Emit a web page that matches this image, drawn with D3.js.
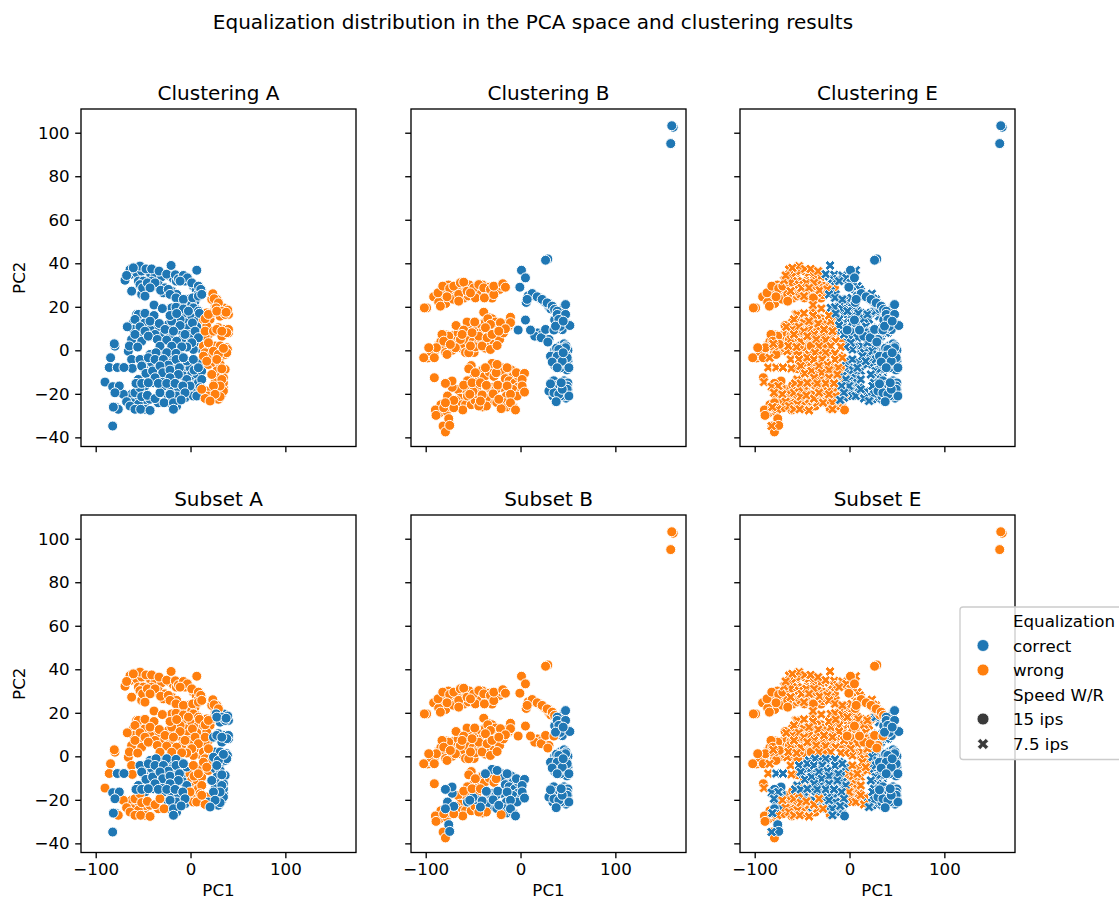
<!DOCTYPE html>
<html><head><meta charset="utf-8">
<script src="https://cdn.jsdelivr.net/npm/d3@7/dist/d3.min.js"></script>
<style>html,body{margin:0;padding:0;background:#fff;overflow:hidden}svg{display:block}text{font-family:"DejaVu Sans",sans-serif;fill:#000}</style>
</head><body><svg id="c" width="1119" height="900"></svg>
<script>
// Labels: 0 = correct, 1 = wrong. Rows: [PC1, PC2, own clustering, subset, clustering E]
const equalization = ["correct", "wrong"];
const speeds = ["15 ips", "7.5 ips"];
const xTicks = [-100, 0, 100];
const yTicks = [-40, -20, 0, 20, 40, 60, 80, 100];
const figureTitle = "Equalization distribution in the PCA space and clustering results";

// 7.5 ips recordings
const points75 = [
[-63.8,34.8,0,1,1],[-56.8,35.6,0,1,1],[-51.5,36.4,0,1,1],[-42.7,35.6,0,1,1],[-37.4,34.4,0,1,1],[-30.4,33.8,0,1,1],[-21.6,34,0,1,0],[-18,32.8,0,1,0],[-15,31.8,0,1,0],[-5.8,31.8,0,1,0],[3,29.5,0,1,0],[5.9,28,0,1,0],[11.8,27.2,0,1,0],[8.3,26.1,0,1,0],
[-55,31.8,0,1,1],[-49.8,31.8,0,1,1],[-41,31.8,0,1,1],[-34,30.2,0,1,1],[-39.2,29.5,0,1,1],[-48,27.2,0,1,1],[-51.5,25.7,0,1,1],[-26.9,28.7,0,1,1],[-28.6,26.4,0,1,1],[-19.8,27.2,0,1,0],[-14.6,25.7,0,1,0],[-4,23.4,0,1,0],[-11,22.6,0,1,0],[-2.2,21.8,0,1,0],[4.8,22.6,0,1,0],[-9.3,21,0,1,0],[1.3,21,0,1,0],
[6.6,18.8,0,1,0],[-19.8,19.5,0,1,0],[-12.8,18,0,1,0],[-5.8,16,0,1,0],[1.3,15.7,0,1,0],[8.3,14.2,0,1,0],[-5.8,12.7,0,1,0],[-15.3,13.4,0,1,1],[-11,14.2,0,1,0],[-56.8,16.5,0,1,1],[-51.5,14.9,0,1,1],[-60.3,12.7,0,1,1],[-48,12.7,0,1,1],[-39.2,12.7,0,1,1],[-34,10.4,0,1,1],[-42.7,9.6,0,1,1],[-53.3,8,0,1,1],[-60.3,9.6,0,1,1],[-23.4,11.9,0,1,1],[-18,11.4,0,1,1],[-14.6,9.6,0,1,1],[-9.3,8.8,0,1,0],[-2.2,10.4,0,1,0],[6.6,10.8,0,1,0],[11.8,7.3,0,1,0],[-.5,7.3,0,1,0],[1.3,5.8,0,1,0],[-5.8,4.2,0,1,0],
[-32.2,5.8,0,1,1],[-21.6,6.5,0,1,1],[-28.6,7.3,0,1,1],[-42.7,6.5,0,1,1],[-51.5,4.2,0,1,1],[-62.1,5,0,1,1],[-9.3,5,0,1,1],[6.6,2,0,1,0],[11.8,.4,0,1,0],[3,.4,0,1,0],[-79.7,1.9,0,1,1],[-65.6,-.4,0,1,1],
[-42.7,-1.9,0,0,1],[-32.2,-1.9,0,0,1],[-19.8,-1.9,0,0,1],[-11,-2.6,0,0,1],[-47.9,-4.2,0,0,1],[-41,-5.7,0,0,1],[-34,-5.7,0,0,1],[-19.8,-5.7,0,0,1],[-26.9,-8,0,0,1],[-18,-8.8,0,0,1],[-7.5,-8,0,0,1],[-49.8,-8,0,0,1],[-42.7,-10.3,0,0,1],[-34,-11,0,0,1],[-26.9,-11.8,0,0,1],[-18,-11.8,0,0,1],[-7.5,-11.8,0,0,0],
[-.5,-8,0,1,0],[1.3,-11,0,1,0],[6.6,-12.6,0,1,0],[-.5,-14.1,0,1,0],[4.8,-15.7,0,1,0],[8.3,-14.9,0,1,0],[11.8,-9.5,0,1,0],[10.1,-5.7,0,1,0],
[-55,-13.4,0,0,1],[-48,-16.4,0,0,1],[-39.2,-14.9,0,0,1],[-28.6,-16.4,0,0,1],[-19.8,-17.2,0,0,1],[-12.8,-17.2,0,0,1],[-77.9,-18,0,0,1],[-74.4,-18.7,0,0,1],[-30.4,-13.4,0,0,1],
[-62.1,-20.2,0,1,1],[-55,-22.5,0,1,1],[-48,-24.1,0,1,1],[-42.7,-22.5,0,1,1],[-34,-24.1,0,1,1],[-62.1,-24.1,0,1,1],[-55,-24.8,0,1,1],[-48,-27.1,0,1,1],[-4,-18,0,1,0],[1.3,-18.7,0,1,0],[-7.5,-21,0,1,0],[11.8,-21,0,1,0],
[-23.4,-21,0,0,1],[-14.6,-21,0,0,1],[-21.6,-24,0,0,1],[-14.6,-25.6,0,0,1],[-5.8,-21.8,0,0,0],[-77.9,-26.4,0,0,1],
[17.1,17.2,1,1,0],[20.6,14.2,1,1,0],[13.6,14.2,1,1,0],[25.9,20.3,1,1,0],[27.7,23.4,1,1,0],[22.4,23.4,1,1,0],[17.1,11.1,1,1,0],[18.9,7.3,1,1,0],[15.4,6.5,1,1,0],[13.6,2,1,1,0],[18.9,.4,1,1,0],[15.4,-1.1,1,1,0],[20.6,-2.7,1,1,0],[18.9,-6.5,1,1,0],[17.1,-18.7,1,1,0],[13.6,-21,1,1,0],
[34.7,19.5,1,0,0],[31.2,15.7,1,0,0],[40,16.5,1,0,0],[29.4,10.4,1,0,0],[36.5,9.6,1,0,0],[33,6.5,1,0,0],[40,8,1,0,0],[25.9,2,1,0,0],[31.2,2,1,0,0],[38.2,1.2,1,0,0],[27.7,-2.7,1,0,0],[33,-2.7,1,0,0],[25.9,-5.7,1,0,0],[31.2,-6.5,1,0,0],[36.5,-8.8,1,0,0],[27.7,-9.5,1,0,0],[29.4,-12.6,1,0,0],[34.7,-12.6,1,0,0],[25.9,-14.9,1,0,0],[34.7,-17.2,1,0,0],[27.7,-19.5,1,0,0],[33,-20.2,1,0,0],[24.2,-22.5,1,0,0],[29.4,-22.5,1,0,0],[18.9,-21,1,0,0],
[-53.3,38.7,0,1,1],[-63.8,37.1,0,1,1],[-60.3,37.9,0,1,1],[-47,37.4,0,1,1],[-41,37.4,0,1,1],[-33.2,36.4,0,1,1],
[-25.1,35,0,1,0],[-16,34.7,0,1,0],[-20.5,39,0,1,0],[-69.1,32.2,0,1,1],[-67.4,34.4,0,1,1],[6.6,36.8,0,1,0],
[-12.8,32.8,0,1,0],[-7.5,34.4,0,1,0],[-3.3,33.3,0,1,0],[1.3,31,0,1,0],[8.3,29.5,0,1,0],[10.8,28,0,1,0],
[-11,31.8,0,1,0],[-53.3,30.2,0,1,1],[-50.5,28.7,0,1,1],[-45.5,31,0,1,1],[-37.4,31,0,1,1],[-42.7,28.7,0,1,1],
[-62.1,27.2,0,1,1],[-31.5,27.6,0,1,1],[-23.4,28,0,1,1],[-48,24.9,0,1,1],[-21.6,25.7,0,1,0],[-15.3,24.1,0,1,0],
[-7.5,23.4,0,1,0],[2.3,24.1,0,1,0],[8.3,24.9,0,1,0],[11.8,25.7,0,1,0],
[-38.5,20.8,0,1,1],[-29.7,19.2,0,1,1],[-15.3,19.8,0,1,0],[-7.5,19,0,1,0],[3,19.5,0,1,0],[8.3,18,0,1,0],[-2.2,18,0,1,0],
[-55,16.5,0,1,1],[-48,17,0,1,1],[-38.5,16,0,1,1],[-58.6,14.2,0,1,1],[-53.3,10.8,0,1,1],[-66.7,10.8,0,1,1],
[-42.7,13.4,0,1,1],[-32.9,12.3,0,1,1],[-19.8,13.4,0,1,1],[-11,11.4,0,1,0],[2,12.6,0,1,0],[9.4,17,0,1,0],
[-21.6,16,0,1,1],[-14.6,16.9,0,1,0],[-58.6,7.3,0,1,1],[-48,8.8,0,1,1],[-37.4,7.3,0,1,1],[-26.9,9.6,0,1,1],
[-18,8.8,0,1,1],[-5.8,7.3,0,1,0],[4.8,8.8,0,1,0],[8.3,5.8,0,1,0],[1.3,3.5,0,1,0],[-80.4,3,0,1,1],[-64.5,2,0,1,1],
[-55.7,1.5,0,1,1],[-44.5,6.5,0,1,1],[-35,5,0,1,1],[-25.1,4.7,0,1,1],[-14.6,4.2,0,1,1],[-4,1.5,0,1,0],
[-32.2,1.9,0,1,1],[-19.8,1.9,0,1,1],[-9.3,1.6,0,1,1],
[-84.3,-3.4,0,1,1],[-62.1,-4.2,0,1,1],[-85.7,-7.9,0,1,1],[-61.4,-8.3,0,1,1],[-90.2,-14.6,0,1,1],
[-36.4,-1.1,0,0,1],[-25.1,-1.1,0,0,1],[-15.3,-1.4,0,0,1],[-4,-4.9,0,0,0],[-53.3,-4.2,0,0,1],[-44.5,-3.4,0,0,1],
[-37.4,-4.2,0,0,1],[-28.6,-4.2,0,0,1],[-15.3,-4.2,0,0,1],[-23.4,-6.8,0,0,1],[-7.5,-3.4,0,0,1],
[-77.2,-7.9,0,0,1],[-70.2,-7.9,0,0,1],[-51.5,-7.2,0,0,1],[-47,-10.6,0,0,1],[-40,-9.5,0,0,1],[-32.2,-7.2,0,0,1],
[-29.3,-10.3,0,0,1],[-21.6,-9.1,0,0,1],[-11.7,-8,0,0,1],[3.7,-9.1,0,1,0],[3,-4.2,0,1,0],[8.3,-8,0,1,0],
[-4,-13.4,0,0,0],[11.8,-13.4,0,1,0],[-12.8,-11.1,0,0,1],[-21.6,-12.6,0,0,1],[-37.4,-12.6,0,0,1],
[-70.9,-20.2,0,1,1],[-58.6,-19.5,0,1,1],[-53.3,-17.2,0,1,1],[-51.5,-21.3,0,1,1],[-45.5,-20.7,0,1,1],
[-37.4,-22.2,0,1,1],[-32.2,-19.5,0,1,1],[-27.9,-24.1,0,1,1],[-.5,-16.4,0,1,0],[10.1,-17.2,0,1,0],[3,-21,0,1,0],[6.6,-21,0,1,0],
[-82.1,-16.7,0,0,1],[-75.1,-16.4,0,0,1],[-79.7,-19.5,0,0,1],[-57.5,-15.2,0,0,1],[-51.5,-15.2,0,0,1],[-44.5,-14.9,0,0,1],
[-33.9,-15.2,0,0,1],[-25.1,-15.2,0,0,1],[-16.3,-15.2,0,0,1],[-8.2,-16.4,0,0,0],[-21.6,-20.2,0,0,1],[-5.8,-19.5,0,0,0],
[-18,-24.1,0,0,1],[-9.9,-22.8,0,0,0],
[-76.2,-27.1,0,1,1],[-67.4,-23.6,0,1,1],[-63.8,-25.6,0,1,1],[-58.6,-27.1,0,1,1],[-52.6,-27.1,0,1,1],[-42.7,-27.6,0,1,1],
[-81.4,-26.1,0,0,1],[-18,-27.1,0,0,1],[-82.1,-34.8,0,0,1],
[23.5,26,1,1,0],[24.9,23.7,1,1,0],[29.4,21.8,1,1,0],[22.4,17.2,1,1,0],[15.4,14.5,1,1,0],[18.9,16.5,1,1,0],
[15.4,8.8,1,1,0],[18.9,3.5,1,1,0],[13.6,-2.7,1,1,0],[17.1,-5,1,1,0],[15.4,-22.1,1,1,0],[11.8,-17.9,1,1,0],
[36.5,16.5,1,0,0],[27,19.5,1,0,0],[39.3,18.5,1,0,0],[33,18,1,0,0],[27.7,18,1,0,0],[37.5,17.5,1,0,0],
[40,9.6,1,0,0],[24.2,8.8,1,0,0],[27.7,9.6,1,0,0],[38.2,8.1,1,0,0],[33,8.8,1,0,0],
[38.9,.4,1,0,0],[24.2,-.4,1,0,0],[36.5,-1.9,1,0,0],[38.2,-1.1,1,0,0],[29.4,-1.9,1,0,0],[34.7,.9,1,0,0],
[27.7,-4.2,1,0,0],[33,-8.5,1,0,0],[22.4,-11.1,1,0,0],[34.7,-15,1,0,0],[33,-13.4,1,0,0],[34.7,-18.7,1,0,0],
[31.2,-16.4,1,0,0],[24.2,-16.4,1,0,0],[31.2,-21.3,1,0,0],[25.9,-20.2,1,0,0],[20.6,-23.3,1,0,0]
];

// 15 ips recordings: the three left bands
const points15Bands = [
[-88,23.5,1,1,1],[-85,24.5,1,1,1],[-83,27,1,1,1],[-79,26,1,1,1],[-76,30,1,1,1],[-72,27,1,1,1],[-68,28,1,1,1],[-67,24,1,1,1],[-62,28.5,1,1,1],[-60,24,1,1,1],[-58,29.5,1,1,1],[-55,25,1,1,1],[-54,30,1,1,1],[-51,27.5,1,1,1],[-46,28,1,1,1],[-42,26,1,1,1],[-40,30,1,1,1],[-36,27,1,1,1],[-34,25,1,1,1],[-33,29,1,1,1],[-30,24,1,1,1],[-25,28,1,1,1],[-22,28,1,1,1],[-20,29.5,1,1,1],[-79,21.5,1,1,1],[-99,19.5,1,1,1],[-71,23.5,1,1,1],
[-98,-3.5,1,1,1],[-93,-2,1,1,1],[-90,0,1,1,1],[-86,2.5,1,1,1],[-84,4,1,1,1],[-80,1,1,1,1],[-79,-1,1,1,1],[-78,7,1,1,1],[-72,5,1,1,1],[-72,0,1,1,1],[-70,7,1,1,1],[-66,8,1,1,1],[-65,3,1,1,1],[-62,1,1,1,1],[-60,3,1,1,1],[-58,-1,1,1,1],[-57,5,1,1,1],[-56,9,1,1,1],[-53,10,1,1,1],[-50,4,1,1,1],[-49,-1,1,1,1],[-48,8,1,1,1],[-46,10,1,1,1],[-45,3,1,1,1],[-43,8,1,1,1],[-42,12,1,1,1],[-41,4,1,1,1],[-39,9,1,1,1],[-37,13,1,1,1],[-37,1,1,1,1],[-35,9,1,1,1],[-33,7,1,1,1],[-32,3,1,1,1],[-30,12,1,1,1],[-28,9,1,1,1],[-28,4,1,1,1],[-26,7,1,1,1],[-24,11,1,1,1],[-22,5,1,1,1],[-19,11,1,1,1],[-18,8,1,1,1],[-13,11,1,1,1],[-12,13,1,1,1],[-33,15,1,1,1],[-30,14.5,1,1,1],
[-52,-7,1,1,1],[-50,-13,1,1,1],[-47,-14,1,1,1],[-46,-17,1,1,1],[-43,-11,1,1,1],[-40,-9,1,1,1],[-38,-12,1,1,1],[-33,-10,1,1,1],[-30,-8,1,1,1],[-28,-12,1,1,1],[-58,-18,1,1,1],[-56,-14,1,1,1],[-66,-18,1,1,1],[-64,-22,1,1,1],[-68,-23,1,1,1],[-62,-25,1,1,1],[-58,-25,1,1,1],[-52,-25,1,1,1],[-48,-23,1,1,1],[-40,-26,1,1,1],[-84,-25,1,1,1],[-86,-29,1,1,1],[-78,-28,1,1,1],[-74,-26,1,1,1],
[-30,-6,1,0,1],[-20,-8,1,0,1],[-18,-10,1,0,1],[-10,-9,1,0,1],[-8,-12,1,0,1],[-16,-13,1,0,1],[-20,-17,1,0,1],[-12,-14,1,0,1],[-6,-15,1,0,1],[-3,-17,1,0,1],[-8,-18,1,0,1],[-15,-21,1,0,1],[-18,-24,1,0,1],[-14,-26,1,0,1],[-8,-26,1,0,1],[-30,-17,1,0,1],[-34,-19,1,0,1],[-46,-20,1,0,1],[-50,-19,1,0,1],[-56,-21,1,0,1],[-38,-21,1,0,1],[-32,-23,1,0,1],[-26,-18,1,0,1],[-25,-24,1,0,1],[-75,-15,1,0,1],[-72,-17,1,0,1],[-77,-21,1,0,1],[-73,-24,1,0,1],[-2,-12,1,0,1],[1,-19,1,0,0],[-36,-22,1,0,1],
[-101.4,19.5,1,1,1],[-91.6,24.6,1,1,1],[-86.3,22.1,1,1,1],[-84.5,20.3,1,1,1],[-87,26.4,1,1,1],[-82,29.5,1,1,1],
[-74.7,28.4,1,1,1],[-70.4,29.5,1,1,1],[-63.4,31,1,1,1],[-59.9,31.3,1,1,1],[-77.5,24.6,1,1,1],[-65.2,25.7,1,1,1],
[-56.4,27.2,1,1,1],[-65.2,22.6,1,1,1],[-49.3,28.7,1,1,1],[-44,30.2,1,1,1],[-47.6,24.1,1,1,1],[-52.8,26.4,1,1,1],
[-38.8,28.7,1,1,1],[-38.1,24.1,1,1,1],[-31.7,28,1,1,1],[-28.2,25.6,1,1,1],[-28.2,29.5,1,1,1],[-18.7,30.6,1,1,1],[-15.9,29,1,1,1],
[-38.8,17.5,1,1,1],[-10.6,15.2,1,1,1],[-68,11.4,1,1,1],[-56.4,13,1,1,1],[-48.3,13,1,1,1],[-34.5,14.5,1,1,1],
[-26.4,13,1,1,1],[-21.2,12.7,1,1,1],[-10.6,12.7,1,1,1],[-15.9,9.9,1,1,1],[-31.7,11.9,1,1,1],[-37,10.4,1,1,1],
[-59.9,9.3,1,1,1],[-44,6.5,1,1,1],[-63.4,5,1,1,1],[-75.7,6.5,1,1,1],[-82.8,7.3,1,1,1],[-68.7,1.2,1,1,1],
[-88.7,1.2,1,1,1],[-95.1,-2.3,1,1,1],[-102.1,-3.4,1,1,1],[-77.5,-1.9,1,1,1],[-90.9,-3.4,1,1,1],[-54.6,-1.1,1,1,1],
[-47.6,1.6,1,1,1],[-52.8,2,1,1,1],[-40.5,2,1,1,1],[-31.7,.4,1,1,1],[-24.7,2.2,1,1,1],[-35.2,5.8,1,1,1],
[-51.1,8.1,1,1,1],[-30,7.3,1,1,1],[-22.9,8.8,1,1,1],[-81,4.2,1,1,1],[-96.8,1.2,1,1,1],[-74,2.7,1,1,1],[-61.6,7.3,1,1,1],
[-90.9,-12.6,1,1,1],[-54.6,-8.5,1,1,1],[-47.6,-10.3,1,1,1],[-59.9,-16,1,1,1],[-51.1,-14.9,1,1,1],[-42.3,-14.9,1,1,1],
[-25.7,-10.3,1,1,1],[-20.4,-26.8,1,1,1],[-36,-25.6,1,1,1],[-44,-25.6,1,1,1],[-60.9,-27.4,1,1,1],[-70.4,-26.4,1,1,1],
[-89.8,-27.4,1,1,1],[-89.1,-29.9,1,1,1],[-81.7,-34.8,1,1,1],[-79.2,-37.5,1,1,1],[-81,-26.4,1,1,1],
[-37,-8,1,0,1],[-24.7,-6.5,1,0,1],[-14.1,-8,1,0,1],[-4.3,-10.3,1,0,1],[4.2,-10.6,1,0,0],[1.7,-13.4,1,0,0],
[-72.2,-14.1,1,0,1],[-79.2,-15.2,1,0,1],[-36,-16.1,1,0,1],[-24,-16,1,0,1],[-14.1,-16.4,1,0,1],[1.7,-16.4,1,0,0],
[-3.6,-21,1,0,1],[4.2,-19.2,1,0,0],[-10.6,-20.2,1,0,1],[-53.5,-20.2,1,0,1],[-40.5,-20.5,1,0,1],[-28.9,-20,1,0,1],
[-22.9,-22.5,1,0,1],[-10.6,-24.1,1,0,1],[-5.3,-27.4,1,0,1],[-70.4,-23,1,0,1],[-79.2,-24.1,1,0,1],
[-75.7,-31.4,1,0,1],[-74.7,-34.5,1,0,1],[-42.3,-23.3,1,0,1]
];

// 15 ips recordings: the right-hand group and the two far outliers
const points15Right = [
[161,102.5,0,1,0],[159.5,103.2,0,1,0],[158.4,95,0,1,0],
[20,24,0,1,0],[15,25,0,1,0],[24,22.5,0,1,0],[26,22,0,1,0],[30,20,0,1,0],[32,19,0,1,0],[31,21,0,1,0],[18,8,0,1,0],[23,7.5,0,1,0],[15,6.5,0,1,0],[30,5,0,1,0],[6,22,0,1,0],[8,25,0,1,0],
[40,16,0,0,0],[42,17,0,0,0],[44,16,0,0,0],[43,12,0,0,0],[47,13,0,0,0],[50,12,0,0,0],[44,9.5,0,0,0],[39,10,0,0,0],[46,20,0,0,0],[36,14,0,0,0],[42,11,0,0,0],
[36,0,0,0,0],[42,2,0,0,0],[46,3,0,0,0],[48,2,0,0,0],[50,0,0,0,0],[48,-2,0,0,0],[50,-5,0,0,0],[46,-7,0,0,0],[49,-9,0,0,0],[42,-8,0,0,0],[36,-7,0,0,0],[34,-3,0,0,0],[36,-2,0,0,0],[42,-2,0,0,0],[40,-5,0,0,0],[38,1,0,0,0],[44,-3,0,0,0],[47,-4,0,0,0],[42,-6,0,0,0],[36,-4,0,0,0],[44,1,0,0,0],[50,-7,0,0,0],
[33,-16,0,0,0],[35,-14,0,0,0],[38,-16,0,0,0],[46,-14,0,0,0],[48,-15,0,0,0],[50,-15,0,0,0],[50,-18,0,0,0],[50,-20,0,0,0],[48,-22,0,0,0],[45,-21,0,0,0],[42,-21,0,0,0],[38,-20,0,0,0],[34,-21,0,0,0],[32,-18,0,0,0],[44,-16,0,0,0],[46,-19,0,0,0],[48,-18,0,0,0],
[28.8,42,0,1,0],[26.4,41.4,0,1,0],[1,36.8,0,1,0],[5.2,33.3,0,1,0],[-.7,29,0,1,0],[12.3,26.1,0,1,0],[7,23.4,0,1,0],
[17.6,24.6,0,1,0],[22.8,23.4,0,1,0],[28.1,21.8,0,1,0],[33.4,20.3,0,1,0],[35.9,18.8,0,1,0],[5.2,13.9,0,1,0],
[-2.5,9.3,0,1,0],[10.5,9.3,0,1,0],[21.8,5.8,0,1,0],[26.4,9.6,0,1,0],[35.2,9.3,0,1,0],[28.8,3.8,0,1,0],
[47.5,21,0,0,0],[38.7,18,0,0,0],[38.7,16.5,0,0,0],[47.5,16.5,0,0,0],[40.4,14.2,0,0,0],[36.9,11.1,0,0,0],[52,11.4,0,0,0],[45,13.4,0,0,0],
[47.5,1.2,0,0,0],[40.4,.4,0,0,0],[31.6,-2.7,0,0,0],[38.7,-2.7,0,0,0],[49.2,-3.4,0,0,0],[33.4,-5.4,0,0,0],[44,-5,0,0,0],[51,-8,0,0,0],[38.7,-8,0,0,0],[45,-1.1,0,0,0],
[49.2,-16.4,0,0,0],[49.2,-17.9,0,0,0],[51,-21,0,0,0],[29.9,-18.7,0,0,0],[35.2,-19.5,0,0,0],[40.4,-20.2,0,0,0],[37.6,-23.6,0,0,0],[31.6,-15.4,0,0,0],[44,-17.9,0,0,0],[42.9,-14.9,0,0,0]
];

const panelsSpec = [
 {title:"Clustering A", col:0, row:0, layers:[[points75,2,0]]},
 {title:"Clustering B", col:1, row:0, layers:[[points15Bands,2,0],[points15Right,2,0]]},
 {title:"Clustering E", col:2, row:0, layers:[[points15Bands,4,0],[points75,4,1],[points15Right,4,0]]},
 {title:"Subset A", col:0, row:1, layers:[[points75,3,0]]},
 {title:"Subset B", col:1, row:1, layers:[[points15Bands,3,0],[points15Right,3,0]]},
 {title:"Subset E", col:2, row:1, layers:[[points15Bands,3,0],[points75,3,1],[points15Right,3,0]]}
];

const colors = ["#1f77b4", "#ff7f0e"];
const colLeft = [81, 411, 740], panelW = 275;
const rowTop = [109, 515], panelH = 337.5;
const svg = d3.select("#c");

svg.append("text").attr("x",533).attr("y",29).attr("text-anchor","middle").style("font-size","20px").text(figureTitle);

const xShape = [[-1,-2],[0,-1],[1,-2],[2,-1],[1,0],[2,1],[1,2],[0,1],[-1,2],[-2,1],[-1,0],[-2,-1]];
function xPath(k){ return d3.line()(xShape.map(p=>[p[0]*k,p[1]*k]))+"Z"; }

panelsSpec.forEach(p=>{
  const left=colLeft[p.col], top=rowTop[p.row];
  const x=d3.scaleLinear().domain([-115.5,174.5]).range([left,left+panelW]);
  const y=d3.scaleLinear().domain([-44.2,110.9]).range([top+panelH,top]);
  const g=svg.append("g");
  p.layers.forEach(([rows,labelIndex,crossed])=>{
    const sel=g.append("g").selectAll("path.m").data(rows).join("path").attr("class","m")
      .attr("fill",d=>colors[d[labelIndex]]).attr("stroke","#fff").attr("stroke-width",1)
      .attr("transform",d=>`translate(${x(d[0])},${y(d[1])})`);
    sel.attr("d",crossed?xPath(2.5):d3.symbol(d3.symbolCircle,Math.PI*5*5)());
  });
  const axB=d3.axisBottom(x).tickValues(xTicks).tickSize(5.8).tickPadding(4.5).tickSizeOuter(0);
  const axL=d3.axisLeft(y).tickValues(yTicks).tickSize(5.8).tickPadding(5.5).tickSizeOuter(0);
  const gx=svg.append("g").attr("transform",`translate(0,${top+panelH})`).call(axB);
  const gy=svg.append("g").attr("transform",`translate(${left},0)`).call(axL);
  [gx,gy].forEach(a=>{a.select(".domain").remove();a.selectAll("line").attr("stroke","#000").attr("stroke-width",1.33);
    a.selectAll("text").style("font-size","16.67px").style("font-family",'"DejaVu Sans"').attr("fill","#000");});
  if(p.row===0) gx.selectAll("text").remove();
  if(p.col!==0) gy.selectAll("text").remove();
  svg.append("rect").attr("x",left).attr("y",top).attr("width",panelW).attr("height",panelH)
    .attr("fill","none").attr("stroke","#000").attr("stroke-width",1.33);
  svg.append("text").attr("x",left+panelW/2).attr("y",top-9).attr("text-anchor","middle").style("font-size","20px").text(p.title);
  if(p.row===1) svg.append("text").attr("x",left+panelW/2).attr("y",895.5).attr("text-anchor","middle").style("font-size","16.67px").text("PC1");
  if(p.col===0) svg.append("text").attr("transform",`translate(24.5,${top+panelH/2}) rotate(-90)`).attr("text-anchor","middle").style("font-size","16.67px").text("PC2");
});

// Legend
const lg=svg.append("g");
lg.append("rect").attr("x",960).attr("y",607).attr("width",190).attr("height",152.5).attr("rx",3)
  .attr("fill","#fff").attr("fill-opacity",.8).attr("stroke","#ccc").attr("stroke-width",1.33);
const legendRows=[
 {t:"Equalization",y:621},
 {t:equalization[0],y:645.5,c:colors[0]},
 {t:equalization[1],y:670,c:colors[1]},
 {t:"Speed W/R",y:694.5,c:null},
 {t:speeds[0],y:719,c:"#3a3a3a"},
 {t:speeds[1],y:744,c:"#3a3a3a",cross:true}
];
legendRows.forEach(r=>{
  lg.append("text").attr("x",1013).attr("y",r.y+6).style("font-size","16.67px").text(r.t);
  if(r.c) lg.append("path").attr("d",r.cross?xPath(2.8):d3.symbol(d3.symbolCircle,Math.PI*6*6)())
    .attr("transform",`translate(983,${r.y})`).attr("fill",r.c).attr("stroke","#fff").attr("stroke-width",.8);
});
</script></body></html>
